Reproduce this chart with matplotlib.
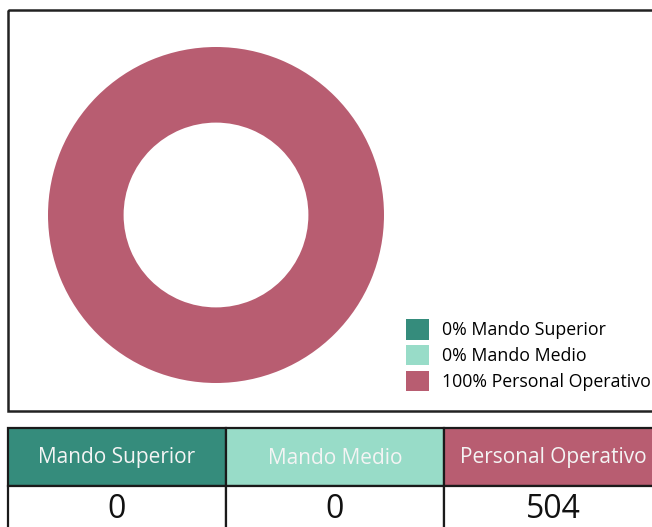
import matplotlib.pyplot as plt
from matplotlib.patches import Rectangle

categories = ["Mando Superior", "Mando Medio", "Personal Operativo"]
counts = [0, 0, 504]
colors = ["#358c7c", "#98dcc8", "#b85d71"]

W, H = 652, 527
fig = plt.figure(figsize=(W / 100, H / 100), dpi=100)
fig.patch.set_facecolor("white")

# overlay axes in pixel coordinates (y down)
bg = fig.add_axes([0, 0, 1, 1])
bg.set_xlim(0, W)
bg.set_ylim(H, 0)
bg.axis("off")

# frame around the donut chart
bg.add_patch(Rectangle((8, 10), 660, 401, fill=False, edgecolor="#222222", lw=1.8))

# donut
cx, cy, r = 216, 215, 168
ax = fig.add_axes([(cx - r) / W, (H - cy - r) / H, 2 * r / W, 2 * r / H])
wedges, _ = ax.pie(counts, colors=colors, startangle=90, counterclock=False,
                   radius=1, wedgeprops=dict(width=0.45, linewidth=0))
ax.set_xlim(-1, 1)
ax.set_ylim(-1, 1)
ax.set_aspect("equal")
ax.axis("off")

total = sum(counts)
labels = [f"{round(100 * c / total)}% {name}" for c, name in zip(counts, categories)]
fig.legend(wedges, labels, loc="upper left", bbox_to_anchor=(406 / W, 1 - 319 / H),
           frameon=False, handlelength=1.3, handleheight=1.4,
           handletextpad=0.75, labelspacing=0.3, borderaxespad=0, borderpad=0,
           prop={"family": "Open Sans", "size": 12.8})

# summary table
x0, col_w = 8, 218
top, head_h, row_h = 428, 58, 50
for i, (name, c, col) in enumerate(zip(categories, counts, colors)):
    x = x0 + i * col_w
    bg.add_patch(Rectangle((x, top), col_w, head_h, facecolor=col,
                           edgecolor="#1a1a1a", lw=1.6))
    bg.add_patch(Rectangle((x, top + head_h), col_w, row_h, facecolor="white",
                           edgecolor="#1a1a1a", lw=1.6))
    bg.text(x + col_w / 2, top + head_h / 2 + 1, name, ha="center", va="center",
            color="#f4f4f4", fontsize=15, family="Open Sans")
    bg.text(x + col_w / 2, top + head_h + 24, str(c), ha="center", va="center",
            color="#111111", fontsize=23, family="Open Sans")

fig.savefig("out.png", dpi=100)
